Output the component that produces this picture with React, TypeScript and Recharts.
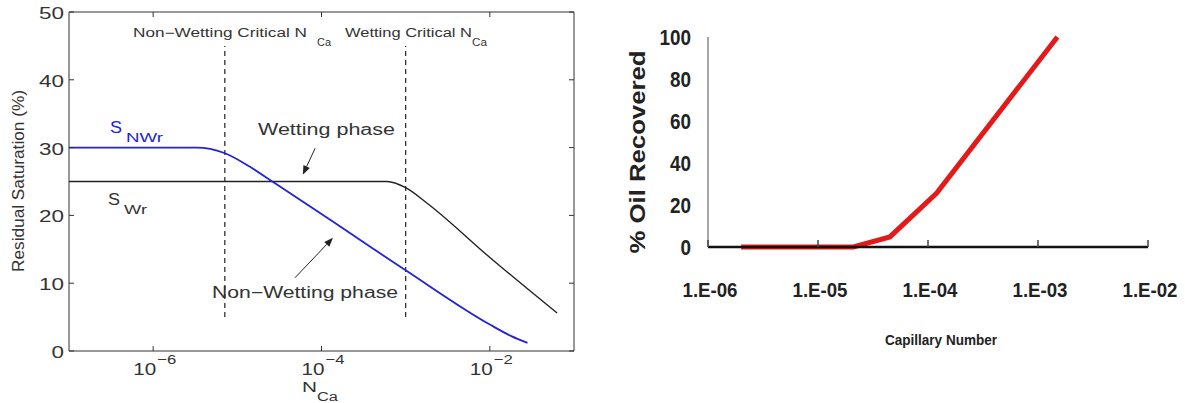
import { LineChart, Line, XAxis, YAxis, ReferenceLine } from "recharts";

// left panel: residual saturation vs capillary number (MATLAB style figure)
const snwr = [
  { x: 1e-7, y: 30 },
  { x: 1e-6, y: 30 },
  { x: 3.3e-6, y: 30 },
  { x: 7e-6, y: 29.2 },
  { x: 1.4e-5, y: 27.2 },
  { x: 2.6e-5, y: 25 },
  { x: 1e-4, y: 20.2 },
  { x: 1e-3, y: 11.9 },
  { x: 1e-2, y: 3.9 },
  { x: 1.8e-2, y: 2.2 },
  { x: 2.8e-2, y: 1.2 },
];

const swr = [
  { x: 1e-7, y: 25 },
  { x: 1e-5, y: 25 },
  { x: 6e-4, y: 25 },
  { x: 1e-3, y: 24.1 },
  { x: 1.8e-3, y: 21.8 },
  { x: 1e-2, y: 13.8 },
  { x: 6.3e-2, y: 5.6 },
];

const criticalN = [7.1e-6, 1e-3];
const dashRange = [5, 45];
const leftXTicks = [1e-6, 1e-4, 1e-2];
const leftYTicks = [0, 10, 20, 30, 40, 50];

// arrow tail -> tip, in data units
const arrows = [
  { x1: 8.4e-5, y1: 29.9, x2: 6.0e-5, y2: 26.0 },
  { x1: 4.84e-5, y1: 10.8, x2: 1.37e-4, y2: 16.7 },
];

// right panel: oil recovered vs capillary number
const recovered = [
  { x: 2e-6, y: 0 },
  { x: 2.1e-5, y: 0 },
  { x: 4.5e-5, y: 4.8 },
  { x: 1.2e-4, y: 25.7 },
  { x: 1.5e-3, y: 100 },
];
const rightXTicks = [1e-6, 1e-5, 1e-4, 1e-3, 1e-2];
const rightXLabels = ["1.E-06", "1.E-05", "1.E-04", "1.E-03", "1.E-02"];
const rightYTicks = [0, 20, 40, 60, 80, 100];

const FONT = "'Liberation Sans', Arial, Helvetica, sans-serif";
const INK = "#333";

const fit = { lengthAdjust: "spacingAndGlyphs" as const };

const PowTick = (p: any) => {
  const { x, y, payload } = p;
  const e = Math.round(Math.log10(payload.value));
  return (
    <g fontFamily={FONT} fill={INK}>
      <line x1={x} y1={y} x2={x} y2={y - 5} stroke={INK} />
      <text x={x - 20} y={y + 24} fontSize={17} textLength={23} {...fit}>10</text>
      <text x={x + 4} y={y + 13} fontSize={13} textLength={19} {...fit}>{"\u2212" + Math.abs(e)}</text>
    </g>
  );
};

const TopTick = (p: any) => (
  <line x1={p.x} y1={p.y} x2={p.x} y2={p.y + 5} stroke={INK} />
);

const LeftYTick = (p: any) => {
  const { x, y, payload } = p;
  const s = String(payload.value);
  return (
    <g fontFamily={FONT} fill={INK}>
      <line x1={x} y1={y} x2={x + 5} y2={y} stroke={INK} />
      <text x={x - 5} y={y + 7} textAnchor="end" fontSize={17} textLength={12.5 * s.length} {...fit}>{s}</text>
    </g>
  );
};

const RightYTick = (p: any) => (
  <line x1={p.x} y1={p.y} x2={p.x - 5} y2={p.y} stroke={INK} />
);

const Arrow = (p: any) => {
  const { x1, y1, x2, y2 } = p;
  const a = Math.atan2(y2 - y1, x2 - x1);
  const L = 9;
  const W = 3.5;
  const bx = x2 - L * Math.cos(a);
  const by = y2 - L * Math.sin(a);
  const pts = `${x2},${y2} ${bx + W * Math.sin(a)},${by - W * Math.cos(a)} ${bx - W * Math.sin(a)},${by + W * Math.cos(a)}`;
  return (
    <g>
      <line x1={x1} y1={y1} x2={bx} y2={by} stroke="#222" strokeWidth={1} />
      <polygon points={pts} fill="#222" />
    </g>
  );
};

const RecYTick = (p: any) => {
  const { x, y, payload } = p;
  const s = String(payload.value);
  return (
    <text x={x - 17} y={y + 8} textAnchor="end" fontFamily={FONT} fontWeight="bold" fontSize={22}
      textLength={10.5 * s.length} {...fit} fill="#222">{s}</text>
  );
};

const RecXTick = (p: any) => {
  const { x, y, index } = p;
  return (
    <g>
      <line x1={x} y1={y} x2={x} y2={y - 7} stroke="#444" strokeWidth={1.5} />
      <text x={x + 2} y={y + 50} textAnchor="middle" fontFamily={FONT} fontWeight="bold" fontSize={20}
        textLength={55} {...fit} fill="#222">{rightXLabels[index]}</text>
    </g>
  );
};

function LeftPanel() {
  return (
    <LineChart width={600} height={403} margin={{ top: 11, right: 25, bottom: 0, left: 28 }}>
      <XAxis xAxisId="b" type="number" dataKey="x" scale="log" domain={[1e-7, 1e-1]} allowDataOverflow
        ticks={leftXTicks} interval={0} height={52} tickSize={0} tickMargin={0} tickLine={false}
        tick={<PowTick />} stroke={INK} />
      <XAxis xAxisId="t" orientation="top" type="number" dataKey="x" scale="log" domain={[1e-7, 1e-1]}
        allowDataOverflow ticks={leftXTicks} interval={0} height={1} tickSize={0} tickMargin={0}
        tickLine={false} tick={<TopTick />} stroke={INK} />
      <YAxis yAxisId="l" type="number" domain={[0, 50]} ticks={leftYTicks} interval={0} width={41}
        tickSize={0} tickMargin={0} tickLine={false} tick={<LeftYTick />} stroke={INK} />
      <YAxis yAxisId="r" orientation="right" type="number" domain={[0, 50]} ticks={leftYTicks} interval={0}
        allowDataOverflow width={1} tickSize={0} tickMargin={0} tickLine={false} tick={<RightYTick />}
        stroke={INK} />
      {criticalN.map((v) => (
        <ReferenceLine key={v} xAxisId="b" yAxisId="l"
          segment={[{ x: v, y: dashRange[0] }, { x: v, y: dashRange[1] }]}
          stroke="#222" strokeDasharray="5 4" strokeWidth={1.2} />
      ))}
      {arrows.map((a, i) => (
        <ReferenceLine key={i} xAxisId="b" yAxisId="l"
          segment={[{ x: a.x1, y: a.y1 }, { x: a.x2, y: a.y2 }]} shape={Arrow} />
      ))}
      {/* invisible series so the mirrored top/right axes (the box) get drawn */}
      <Line xAxisId="t" yAxisId="r" data={swr} dataKey="y" stroke="none" dot={false}
        isAnimationActive={false} />
      <Line xAxisId="b" yAxisId="l" data={swr} dataKey="y" type="monotone" stroke="#222"
        strokeWidth={1.4} dot={false} isAnimationActive={false} />
      <Line xAxisId="b" yAxisId="l" data={snwr} dataKey="y" type="monotone" stroke="#2222d6"
        strokeWidth={1.8} dot={false} isAnimationActive={false} />
    </LineChart>
  );
}

function RightPanel() {
  return (
    <LineChart width={585} height={403} margin={{ top: 37, right: 37, bottom: 0, left: 48 }}>
      <XAxis type="number" dataKey="x" scale="log" domain={[1e-6, 1e-2]} allowDataOverflow
        ticks={rightXTicks} interval={0} height={156} tickSize={0} tickMargin={0} tickLine={false}
        tick={<RecXTick />} stroke="#111" strokeWidth={2.5} />
      <YAxis type="number" domain={[0, 100]} ticks={rightYTicks} interval={0} width={60}
        tickSize={0} tickMargin={0} tickLine={false} tick={<RecYTick />} stroke="#888" strokeWidth={1.5} />
      <Line data={recovered} dataKey="y" type="linear" stroke="#e41a1a" strokeWidth={5}
        dot={false} isAnimationActive={false} />
    </LineChart>
  );
}

function Overlay() {
  return (
    <svg width={1185} height={403} style={{ position: "absolute", left: 0, top: 0, pointerEvents: "none" }}
      fontFamily={FONT}>
      <g fill={INK}>
        <text x={133} y={37} fontSize={12} textLength={174} {...fit}>Non{"\u2212"}Wetting Critical N</text>
        <text x={317} y={46} fontSize={10} textLength={14} {...fit}>Ca</text>
        <text x={345} y={37} fontSize={12} textLength={127} {...fit}>Wetting Critical N</text>
        <text x={472} y={46} fontSize={10} textLength={15} {...fit}>Ca</text>
        <text x={258} y={135} fontSize={16} textLength={137} {...fit}>Wetting phase</text>
        <text x={212} y={298} fontSize={16} textLength={186} {...fit}>Non{"\u2212"}Wetting phase</text>
        <text x={108} y={205} fontSize={16} textLength={12} {...fit}>S</text>
        <text x={124} y={214} fontSize={12} textLength={23} {...fit}>Wr</text>
        <text x={302} y={392} fontSize={15} textLength={15} {...fit}>N</text>
        <text x={317} y={401} fontSize={12} textLength={21} {...fit}>Ca</text>
        <text x={24} y={181} fontSize={16} textAnchor="middle" textLength={182} {...fit}
          transform="rotate(-90, 24, 181)">Residual Saturation (%)</text>
      </g>
      <g fill="#2222d6">
        <text x={110} y={133} fontSize={16} textLength={12} {...fit}>S</text>
        <text x={126} y={142} fontSize={12} textLength={37} {...fit}>NWr</text>
      </g>
      <g fill="#222" fontWeight="bold">
        <text x={885} y={345} fontSize={15} textLength={112} {...fit}>Capillary Number</text>
        <text x={645} y={152} fontSize={22} textAnchor="middle" textLength={203} {...fit}
          transform="rotate(-90, 645, 152)">% Oil Recovered</text>
      </g>
    </svg>
  );
}

export default function App() {
  return (
    <div style={{ position: "absolute", left: 0, top: 0, width: 1185, height: 403, background: "#fff" }}>
      <div style={{ position: "absolute", left: 0, top: 0 }}>
        <LeftPanel />
      </div>
      <div style={{ position: "absolute", left: 600, top: 0 }}>
        <RightPanel />
      </div>
      <Overlay />
    </div>
  );
}
